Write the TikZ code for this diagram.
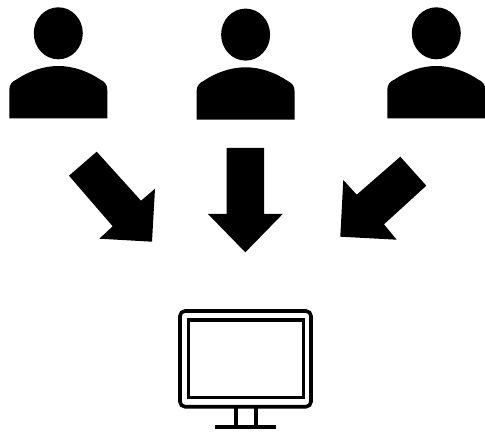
\documentclass[tikz,border=0pt]{standalone}
\tikzset{
  solidshape/.style={fill=black,draw=none},
  screenline/.style={draw=black,line width=3.6pt,fill=none},
  person/.pic={
    \fill (58.3,33.3) ellipse [x radius=24.5,y radius=26];
    \fill (9.3,118.3) -- (9.3,90) .. controls (9.3,84.5) and (12,81.5) .. (16.5,79.5)
      .. controls (29,71) and (44,66) .. (58.3,66)
      .. controls (72.6,66) and (87.6,71) .. (100.1,79.5)
      .. controls (104.6,81.5) and (107.3,84.5) .. (107.3,90) -- (107.3,118.3) -- cycle;
  }
}
\begin{document}
\begin{tikzpicture}[x=1pt,y=-1pt]
\useasboundingbox (0,0) rectangle (485,433);
\pic at (0,0) {person};
\pic at (187.3,1.3) {person};
\pic at (378,0) {person};
\fill[solidshape] (96.7,151.7) -- (141,200.7) -- (155,188.7) -- (152,241.7) -- (99.3,238.7) -- (112.7,226.3) -- (69,175.7) -- cycle;
\fill[solidshape] (226.7,148) -- (264,148) -- (264,214) -- (282.7,214) -- (245.3,252.3) -- (208,214) -- (226.7,214) -- cycle;
\fill[solidshape] (400.3,156.7) -- (426.3,185.7) -- (384,224.3) -- (396.7,239.7) -- (340.3,236.7) -- (343.3,180) -- (356.7,194.7) -- cycle;
\draw[screenline,rounded corners=5pt] (180,311) rectangle (311,406.7);
\draw[screenline] (188.3,320) rectangle (303.3,397.3);
\draw[screenline] (235.7,406.7) -- (235.7,427);
\draw[screenline] (256,406.7) -- (256,427);
\draw[screenline] (215.3,427) -- (275.7,427);
\end{tikzpicture}
\end{document}
